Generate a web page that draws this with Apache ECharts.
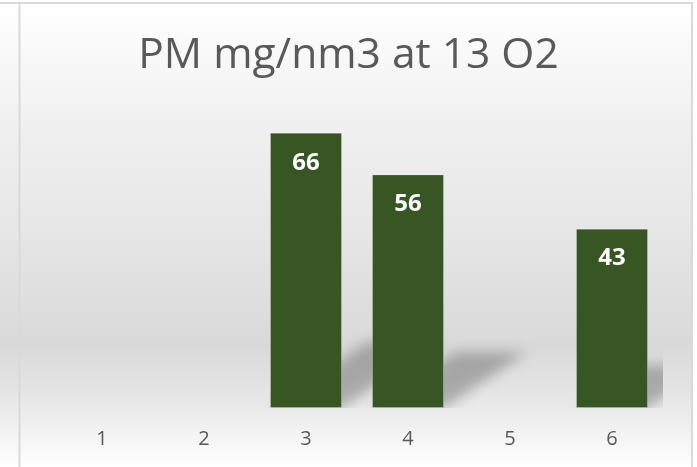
<!DOCTYPE html>
<html>
<head>
<meta charset="utf-8">
<script src="https://cdn.jsdelivr.net/npm/echarts@6/dist/echarts.min.js"></script>
<style>
  html, body { margin: 0; padding: 0; background: #ffffff; }
  #chart { width: 697px; height: 467px; }
</style>
</head>
<body>
<div id="chart"></div>
<script>
// Sample numbers along the x axis
const categories = ['1', '2', '3', '4', '5', '6'];
// PM concentration (mg/nm3 at 13 % O2); blank samples have no reading
const pmValues = [null, null, 66, 56, null, 43];
// Hidden value axis range
const yMin = 0;
const yMax = 70;

const FONT = '"Open Sans", "Liberation Sans", sans-serif';
const BAR_COLOR = '#375623';

// Skewed, blurred drop shadow cast by each bar (drawn off-canvas, only its shadow shows)
const OFF = 3000;
function renderShadow(params, api) {
  const v = api.value(1);
  if (v == null || isNaN(v)) return null;
  const idx = api.value(0);
  const base = api.coord([idx, 0]);
  const top = api.coord([idx, v]);
  const bw = api.size([1, 0])[0] * 0.706;
  const h = base[1] - top[1];
  const dx = 0.355 * h;
  const dy = 0.24 * h;
  const x0 = base[0] - bw / 2;
  const x1 = base[0] + bw / 2;
  const y = base[1];
  return {
    type: 'polygon',
    shape: {
      points: [
        [x0 - OFF, y], [x1 - OFF, y],
        [x1 + dx - OFF, y - dy], [x0 + dx - OFF, y - dy]
      ]
    },
    style: {
      fill: '#000',
      shadowBlur: 13,
      shadowColor: 'rgba(0,0,0,0.26)',
      shadowOffsetX: OFF
    }
  };
}

const chart = echarts.init(document.getElementById('chart'), null, { renderer: 'canvas' });

chart.setOption({
  animation: false,
  backgroundColor: {
    type: 'linear', x: 0, y: 0, x2: 0, y2: 1,
    colorStops: [
      { offset: 0, color: '#ffffff' },
      { offset: 0.25, color: '#f1f1f1' },
      { offset: 0.5, color: '#e6e6e6' },
      { offset: 0.74, color: '#d9d9d9' },
      { offset: 0.87, color: '#e9e9e9' },
      { offset: 1, color: '#ffffff' }
    ]
  },
  graphic: [
    { type: 'rect', shape: { x: 693, y: 0, width: 4, height: 467 }, style: { fill: '#ffffff' }, silent: true },
    { type: 'line', shape: { x1: 0, y1: 3, x2: 693, y2: 3 }, style: { stroke: '#d9d9d9', lineWidth: 2 }, silent: true },
    { type: 'line', shape: { x1: 19.5, y1: 3, x2: 19.5, y2: 467 }, style: { stroke: '#d9d9d9', lineWidth: 2 }, silent: true },
    { type: 'line', shape: { x1: 692, y1: 3, x2: 692, y2: 467 }, style: { stroke: '#d9d9d9', lineWidth: 2 }, silent: true }
  ],
  title: {
    text: 'PM mg/nm3 at 13 O2',
    left: 'center',
    top: 34,
    padding: [0, 0, 0, 17],
    textStyle: { fontFamily: FONT, fontSize: 42.5, fontWeight: 'normal', color: '#595959' }
  },
  grid: { left: 51, right: 34, top: 116, bottom: 59 },
  xAxis: {
    type: 'category',
    data: categories,
    axisLine: { show: false },
    axisTick: { show: false },
    axisLabel: { fontFamily: FONT, fontSize: 20, color: '#595959', margin: 21 }
  },
  yAxis: {
    type: 'value',
    min: yMin,
    max: yMax,
    show: false,
    splitLine: { show: false }
  },
  series: [
    {
      type: 'custom',
      z: 1,
      clip: true,
      renderItem: renderShadow,
      encode: { x: 0, y: 1 },
      data: pmValues.map((v, i) => [i, v])
    },
    {
      type: 'bar',
      z: 2,
      data: pmValues,
      barCategoryGap: '29.4%',
      itemStyle: { color: BAR_COLOR, borderColor: 'rgba(255,255,255,0.25)', borderWidth: 1 },
      label: {
        show: true,
        position: 'insideTop',
        distance: 18,
        color: '#ffffff',
        fontFamily: FONT,
        fontWeight: 'bold',
        fontSize: 24
      }
    }
  ]
});
</script>
</body>
</html>
